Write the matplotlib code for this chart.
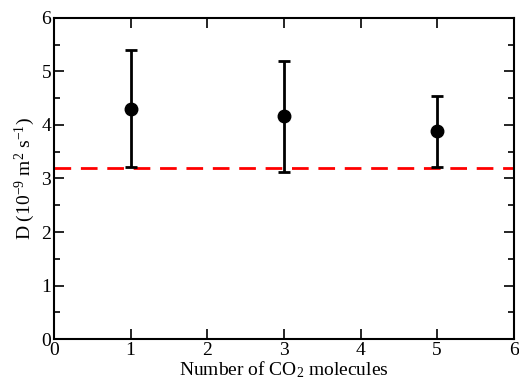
import numpy as np
import matplotlib
matplotlib.use('Agg')
import matplotlib.pyplot as plt

# Diffusion coefficient vs. number of CO2 molecules
n_co2 = [1, 3, 5]
d_mean = [4.30, 4.17, 3.89]
d_low = [3.21, 3.12, 3.22]
d_high = [5.40, 5.20, 4.55]
d_ref = 3.20

plt.rcParams['font.family'] = 'Liberation Serif'
plt.rcParams['mathtext.fontset'] = 'custom'
plt.rcParams['mathtext.rm'] = 'Liberation Serif'
plt.rcParams['mathtext.it'] = 'Liberation Serif:italic'

fig = plt.figure(figsize=(5.19, 3.81), dpi=100)
ax = fig.add_axes([0.104, 0.110, 0.886, 0.843])

mean = np.array(d_mean)
yerr = [mean - np.array(d_low), np.array(d_high) - mean]

ax.axhline(d_ref, color='#ff0000', lw=2, dashes=(6, 3.5), zorder=1)
ax.errorbar(n_co2, d_mean, yerr=yerr, fmt='o', color='black', ms=9,
            elinewidth=2, capsize=4, capthick=2, zorder=3)

ax.set_xlim(0, 6)
ax.set_ylim(0, 6)
ax.set_xticks(np.arange(0, 7, 1))
ax.set_yticks(np.arange(0, 7, 1))
ax.set_yticks(np.arange(0.5, 6, 1), minor=True)
ax.tick_params(which='both', direction='in', top=True, right=True, width=1.2,
               labelsize=14, pad=2)
ax.tick_params(which='major', length=7)
ax.tick_params(which='minor', length=4)
for s in ax.spines.values():
    s.set_linewidth(1.5)

ax.set_xlabel('Number of CO$_2$ molecules', fontsize=14, labelpad=0)
ax.set_ylabel('D (10$^{-9}$ m$^2$ s$^{-1}$)', fontsize=14, labelpad=3)

fig.savefig('out.png', dpi=100)
